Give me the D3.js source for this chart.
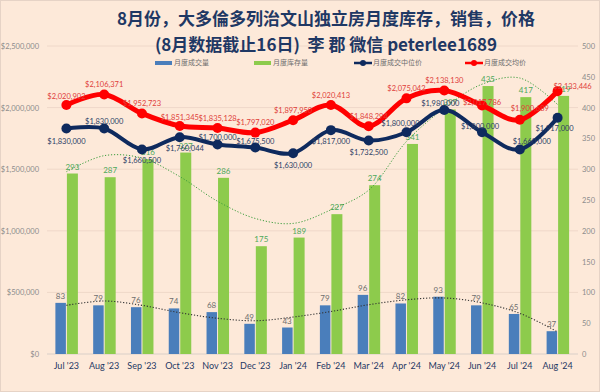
<!DOCTYPE html>
<html>
<head>
<meta charset="utf-8">
<script src="https://cdn.jsdelivr.net/npm/d3@7"></script>
<style>
  html, body { margin: 0; padding: 0; background: #FDE9D9; }
  svg { display: block; }
</style>
</head>
<body>
<div id="chart"></div>
<script>
var months = ["Jul '23", "Aug '23", "Sep '23", "Oct '23", "Nov '23", "Dec '23", "Jan '24",
              "Feb '24", "Mar '24", "Apr '24", "May '24", "Jun '24", "Jul '24", "Aug '24"];
var sales = [83, 79, 76, 74, 68, 49, 43, 79, 96, 82, 93, 79, 65, 37];
var inventory = [293, 287, 316, 327, 286, 175, 189, 227, 274, 341, 397, 435, 417, 419];
var median = [1830000, 1830000, 1660500, 1760044, 1700000, 1675500, 1630000,
              1817000, 1732500, 1800000, 1980000, 1800000, 1660000, 1917000];
var average = [2020902, 2106371, 1952723, 1851345, 1835128, 1797020, 1897950,
               2020413, 1848294, 2075042, 2138130, 2017786, 1900689, 2133446];
// dotted trend lines
var salesTrend = [79, 86, 79, 67, 58, 54, 60, 69, 80, 88, 91, 83, 66, 36];
var invTrend = [296, 322, 318, 288, 248, 220, 212, 234, 266, 345, 399, 438, 448, 405];
var leftTicks = [0, 500000, 1000000, 1500000, 2000000, 2500000];
var rightTicks = [0, 50, 100, 150, 200, 250, 300, 350, 400, 450, 500];
var legendTxt = ["月度成交量", "月度库存量", "月度成交中位价", "月度成交均价"];

// label placement (dx, dy) per point
var medianOff = [[0, 13], [0, -7], [0, 11], [5, 11], [0, -7], [0, -6], [0, 12],
                 [0, 11], [0, 12], [-6, -9], [-4, -7], [-2, -6], [12, -8], [-3, 11]];
var avgOff = [[0, -9], [0, -10], [0, -10], [0, -9], [0, -10], [0, -10], [0, -10],
              [0, -10], [0, -10], [0, -10], [0, -10], [0, -3], [10, -11], [15, -5]];

var W = 600, H = 392;
var svg = d3.select("#chart").append("svg").attr("width", W).attr("height", H);
svg.append("rect").attr("x", 0.5).attr("y", 0.5).attr("width", W - 1).attr("height", H - 1)
  .attr("fill", "#FDE9D9").attr("stroke", "#E6D3C6");

var x = d3.scaleBand().domain(months).range([47.5, 576.5]);
var yL = d3.scaleLinear().domain([0, 2500000]).range([354, 46]);
var yR = d3.scaleLinear().domain([0, 500]).range([354, 46]);
var cx = function (i) { return x(months[i]) + x.bandwidth() / 2; };

var numFont = "Lato, 'Open Sans', sans-serif";
var cjkFont = "'Noto Sans CJK SC', 'Noto Sans CJK TC', sans-serif";

// grid
svg.append("g").selectAll("line").data(leftTicks).enter().append("line")
  .attr("x1", 47).attr("x2", 578)
  .attr("y1", function (d) { return yL(d); }).attr("y2", function (d) { return yL(d); })
  .attr("stroke", function (d) { return d == 0 ? "#D9CFC8" : "#EFD8C9"; }).attr("stroke-width", 1);

var yAxisL = d3.axisLeft(yL).tickValues(leftTicks).tickSize(0).tickPadding(0)
  .tickFormat(function (d) { return "$" + d3.format(",")(d); });
var gl = svg.append("g").attr("transform", "translate(39,0)").call(yAxisL);
gl.select(".domain").remove();
gl.selectAll("text").attr("font-family", numFont).attr("font-size", "7.5px").attr("fill", "#8C8C8C");

var yAxisR = d3.axisRight(yR).tickValues(rightTicks).tickSize(0).tickPadding(0);
var gr = svg.append("g").attr("transform", "translate(582,0)").call(yAxisR);
gr.select(".domain").remove();
gr.selectAll("text").attr("font-family", numFont).attr("font-size", "7.5px").attr("fill", "#8C8C8C");

var xAxis = d3.axisBottom(x).tickSize(0).tickPadding(0);
var gx = svg.append("g").attr("transform", "translate(0,363)").call(xAxis);
gx.select(".domain").remove();
gx.selectAll("text").attr("font-family", numFont).attr("font-size", "9px").attr("fill", "#1F3864");

// bars
svg.append("g").selectAll("rect").data(sales).enter().append("rect")
  .attr("x", function (d, i) { return cx(i) - 11; })
  .attr("y", function (d) { return yR(d); })
  .attr("width", 10.5)
  .attr("height", function (d) { return yR(0) - yR(d); })
  .attr("fill", "#4A7EBB");

svg.append("g").selectAll("rect").data(inventory).enter().append("rect")
  .attr("x", function (d, i) { return cx(i) + 0.5; })
  .attr("y", function (d) { return yR(d); })
  .attr("width", 11)
  .attr("height", function (d) { return yR(0) - yR(d); })
  .attr("fill", "#8DCB4C");

svg.append("g").selectAll("text").data(sales).enter().append("text")
  .attr("x", function (d, i) { return cx(i) - 6; })
  .attr("y", function (d) { return yR(d) - 4; })
  .attr("text-anchor", "middle").attr("font-family", numFont).attr("font-size", "8px")
  .attr("fill", "#6E6E6E").text(function (d) { return d; });

svg.append("g").selectAll("text").data(inventory).enter().append("text")
  .attr("x", function (d, i) { return cx(i) + 6; })
  .attr("y", function (d) { return yR(d) - 4; })
  .attr("text-anchor", "middle").attr("font-family", numFont).attr("font-size", "8px")
  .attr("fill", "#4EA85A").text(function (d) { return d; });

// trend lines
var trendR = d3.line().x(function (d, i) { return cx(i); }).y(function (d) { return yR(d); })
  .curve(d3.curveCatmullRom.alpha(0.5));
svg.append("path").datum(invTrend).attr("d", trendR).attr("fill", "none")
  .attr("stroke", "#3E9E3E").attr("stroke-width", 1).attr("stroke-dasharray", "1.2,1.8");
svg.append("path").datum(salesTrend).attr("d", trendR).attr("fill", "none")
  .attr("stroke", "#333333").attr("stroke-width", 1.1).attr("stroke-dasharray", "1.2,1.8");

// price lines
var lineL = d3.line().x(function (d, i) { return cx(i); }).y(function (d) { return yL(d); })
  .curve(d3.curveCatmullRom.alpha(0));

function priceSeries(data, color, width, off) {
  svg.append("path").datum(data).attr("d", lineL).attr("fill", "none")
    .attr("stroke", color).attr("stroke-width", width).attr("stroke-linejoin", "round");
  svg.append("g").selectAll("circle").data(data).enter().append("circle")
    .attr("cx", function (d, i) { return cx(i); })
    .attr("cy", function (d) { return yL(d); })
    .attr("r", 5).attr("fill", color);
}
priceSeries(average, "#FF0000", 5, avgOff);
priceSeries(median, "#0E2A5E", 4, medianOff);

function priceLabels(data, color, off) {
  svg.append("g").selectAll("text").data(data).enter().append("text")
    .attr("x", function (d, i) { return cx(i) + off[i][0]; })
    .attr("y", function (d, i) { return yL(d) + off[i][1]; })
    .attr("dy", "0.35em")
    .attr("text-anchor", "middle").attr("font-family", numFont).attr("font-size", "7.5px")
    .attr("fill", color).text(function (d) { return "$" + d3.format(",")(d); });
}
priceLabels(average, "#E0403A", avgOff);
priceLabels(median, "#2C3E66", medianOff);

// legend
var lg = svg.append("g").attr("font-family", cjkFont).attr("font-size", "7px").attr("fill", "#6E6E6E");
var legX = [155, 254, 354, 465];
var legC = ["#4A7EBB", "#8DCB4C", "#0E2A5E", "#FF0000"];
legendTxt.forEach(function (t, i) {
  if (i < 2) {
    lg.append("rect").attr("x", legX[i]).attr("y", 61).attr("width", 17).attr("height", 4).attr("fill", legC[i]);
  } else {
    lg.append("line").attr("x1", legX[i]).attr("x2", legX[i] + 18).attr("y1", 63).attr("y2", 63)
      .attr("stroke", legC[i]).attr("stroke-width", 2.5);
    lg.append("circle").attr("cx", legX[i] + 9).attr("cy", 63).attr("r", 3).attr("fill", legC[i]);
  }
  lg.append("text").attr("x", legX[i] + 19).attr("y", 63).attr("dy", "0.35em").text(t);
});

// title
var tg = svg.append("g").attr("font-family", cjkFont).attr("font-weight", "bold")
  .attr("fill", "#1F3864").attr("text-anchor", "middle").attr("font-size", "17px");
tg.append("text").attr("x", 326).attr("y", 25).text("8月份，大多倫多列治文山独立房月度库存，销售，价格");
tg.append("text").attr("x", 326).attr("y", 51).attr("xml:space", "preserve")
  .text("(8月数据截止16日)  李 郡 微信 peterlee1689");
</script>
</body>
</html>
